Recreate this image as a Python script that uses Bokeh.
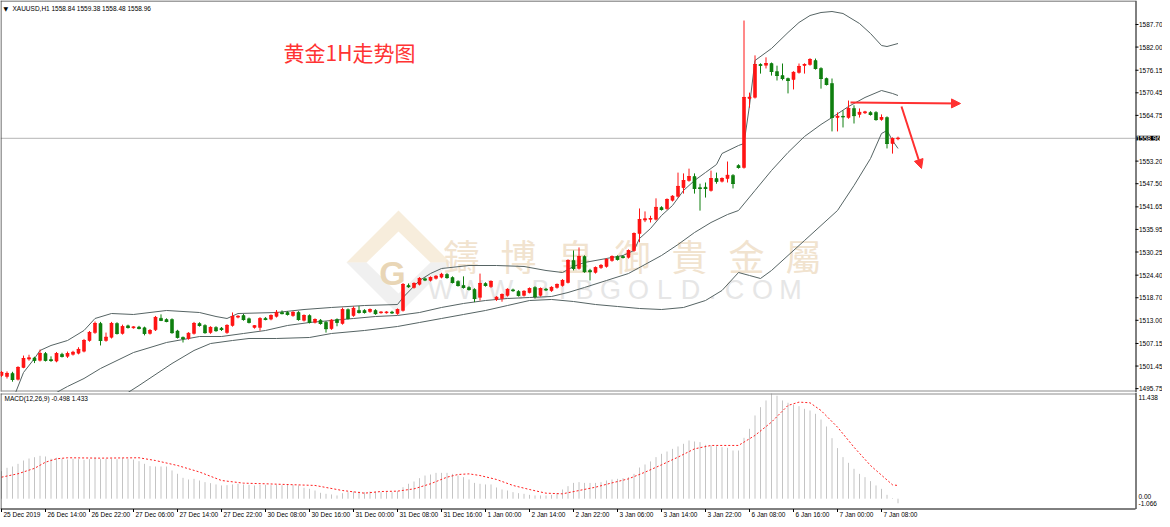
from bokeh.plotting import figure
from bokeh.layouts import column
from bokeh.models import (Range1d, Label, Span, Arrow, NormalHead, ColumnDataSource,
                          PolyAnnotation)
from bokeh.core.properties import value
from bokeh.embed import file_html
from bokeh.resources import INLINE

# ---------------- data ----------------
opens = [1499.07, 1498.82, 1499.6, 1498.1, 1501.1, 1503.2, 1503.5, 1502.9, 1504.6, 1503.1,
         1502.7, 1504.4, 1503.9, 1504.4, 1504.7, 1505.2, 1507.9, 1509.9, 1512.2, 1507.9,
         1508.7, 1512.2, 1509.7, 1511.6, 1511.1, 1511.3, 1511.1, 1509.7, 1510.6, 1513.5,
         1513.2, 1513.2, 1510.3, 1508.7, 1508.4, 1509.7, 1512.2, 1511.7, 1509.9, 1511.2,
         1511.0, 1509.9, 1511.7, 1513.8, 1514.2, 1513.4, 1511.2, 1511.2, 1513.5, 1513.3,
         1514.0, 1515.0, 1515.0, 1514.2, 1515.0, 1513.0, 1514.2, 1512.5, 1513.0, 1512.5,
         1510.9, 1513.2, 1512.2, 1515.7, 1514.2, 1515.5, 1515.5, 1515.2, 1515.5, 1514.9,
         1514.9, 1515.1, 1514.7, 1515.5, 1521.8, 1521.3, 1522.1, 1523.5, 1523.1, 1523.6,
         1523.9, 1524.6, 1523.8, 1522.8, 1521.8, 1521.3, 1520.8, 1518.8, 1522.3, 1521.5,
         1518.3, 1518.5, 1519.3, 1520.7, 1520.3, 1519.3, 1520.0, 1521.3, 1519.3, 1520.9,
         1520.5, 1521.3, 1521.8, 1522.55, 1528.1, 1526.1, 1529.1, 1525.6, 1525.1, 1526.3,
         1526.6, 1528.1, 1529.1, 1529.1, 1528.9, 1530.6, 1534.9, 1538.3, 1538.5, 1538.5,
         1541.5, 1541.2, 1543.3, 1544.3, 1546.5, 1548.3, 1549.3, 1546.5, 1546.6, 1545.8,
         1548.8, 1548.1, 1548.8, 1549.6, 1552.1, 1551.6, 1569.0, 1569.3, 1577.6, 1577.4,
         1577.85, 1575.8, 1574.8, 1574.06, 1573.8, 1575.6, 1577.35, 1577.6, 1578.6, 1576.6,
         1574.06, 1572.8, 1564.2, 1564.5, 1564.2, 1566.5, 1565.0, 1565.4, 1565.5, 1565.5,
         1563.7, 1564.2, 1557.65, 1558.84]
highs = [1500.2, 1500.1, 1500.0, 1501.4, 1504.1, 1504.3, 1503.8, 1505.6, 1505.0, 1503.9,
         1505.0, 1504.8, 1505.1, 1505.3, 1506.2, 1508.3, 1510.3, 1512.7, 1512.6, 1509.9,
         1512.6, 1512.5, 1511.9, 1511.9, 1511.5, 1511.6, 1511.4, 1510.8, 1514.1, 1514.5,
         1513.5, 1513.5, 1510.6, 1508.9, 1510.0, 1512.6, 1512.5, 1512.0, 1511.5, 1511.5,
         1511.3, 1512.0, 1514.98, 1514.3, 1514.6, 1513.7, 1511.8, 1513.8, 1513.8, 1514.5,
         1515.6, 1515.5, 1515.3, 1515.3, 1515.3, 1514.5, 1514.5, 1513.5, 1513.3, 1512.8,
         1513.3, 1513.5, 1516.2, 1516.0, 1516.5, 1516.6, 1515.8, 1516.0, 1515.8, 1515.3,
         1515.3, 1515.4, 1516.0, 1522.4, 1522.3, 1522.6, 1523.9, 1523.8, 1524.1, 1524.4,
         1525.0, 1524.9, 1524.1, 1523.1, 1524.1, 1521.6, 1521.1, 1524.8, 1522.6, 1523.1,
         1519.1, 1519.8, 1521.1, 1521.0, 1520.6, 1520.6, 1521.3, 1521.6, 1521.3, 1521.2,
         1521.6, 1522.3, 1523.4, 1528.4, 1530.63, 1531.4, 1529.4, 1526.0, 1526.6, 1527.2,
         1528.7, 1529.4, 1529.4, 1529.4, 1530.9, 1535.2, 1541.24, 1540.5, 1539.4, 1543.8,
         1541.8, 1543.8, 1544.6, 1550.3, 1550.1, 1551.3, 1550.1, 1547.5, 1547.8, 1550.8,
         1550.3, 1549.1, 1553.1, 1549.9, 1552.4, 1588.7, 1570.5, 1579.9, 1577.9, 1579.4,
         1578.1, 1577.3, 1577.85, 1574.3, 1575.9, 1577.85, 1577.9, 1579.2, 1579.1, 1576.9,
         1574.3, 1574.06, 1565.5, 1566.0, 1568.5, 1567.3, 1566.5, 1565.9, 1565.8, 1565.8,
         1565.0, 1564.5, 1559.2, 1559.38]
lows = [1498.7, 1498.3, 1497.5, 1497.8, 1500.9, 1502.8, 1502.2, 1502.6, 1502.6, 1502.5,
        1502.4, 1503.6, 1503.5, 1504.1, 1504.4, 1504.9, 1507.6, 1509.6, 1506.65, 1507.6,
        1508.4, 1509.4, 1509.4, 1510.9, 1510.9, 1510.7, 1509.2, 1509.4, 1510.3, 1512.8,
        1512.5, 1509.6, 1508.4, 1507.4, 1508.1, 1509.4, 1511.4, 1509.6, 1509.6, 1510.1,
        1510.3, 1509.6, 1511.4, 1513.5, 1512.9, 1512.2, 1510.9, 1510.4, 1513.0, 1513.0,
        1513.7, 1514.5, 1514.2, 1513.9, 1512.9, 1512.7, 1512.2, 1512.2, 1511.9, 1509.9,
        1510.6, 1511.5, 1511.9, 1513.2, 1513.9, 1514.7, 1514.7, 1514.9, 1514.4, 1514.7,
        1514.7, 1514.6, 1514.4, 1515.2, 1521.2, 1521.0, 1521.8, 1522.9, 1522.8, 1523.3,
        1523.6, 1523.5, 1522.3, 1521.5, 1521.0, 1520.5, 1517.6, 1518.0, 1521.5, 1521.2,
        1517.9, 1517.7, 1519.0, 1520.2, 1519.0, 1519.0, 1519.8, 1518.5, 1519.0, 1520.4,
        1520.2, 1521.0, 1521.5, 1522.3, 1525.6, 1525.8, 1525.0, 1523.06, 1524.8, 1526.0,
        1526.3, 1527.8, 1528.1, 1528.6, 1528.6, 1530.3, 1532.7, 1537.8, 1537.7, 1538.2,
        1540.7, 1540.9, 1543.0, 1544.0, 1545.0, 1548.0, 1545.0, 1540.7, 1544.0, 1545.5,
        1547.5, 1547.8, 1547.8, 1546.3, 1551.3, 1551.3, 1566.7, 1569.0, 1575.3, 1576.6,
        1574.8, 1573.56, 1573.6, 1570.3, 1571.3, 1575.3, 1575.3, 1577.3, 1576.3, 1571.5,
        1572.3, 1560.7, 1560.7, 1561.7, 1563.9, 1562.7, 1564.2, 1565.1, 1564.7, 1563.4,
        1563.4, 1556.4, 1555.1, 1558.48]
closes = [1499.83, 1499.58, 1498.06, 1501.09, 1503.36, 1503.5, 1502.9, 1504.63, 1502.9, 1502.85,
          1504.6, 1503.9, 1504.6, 1504.9, 1505.64, 1507.9, 1509.93, 1512.2, 1507.9, 1508.7,
          1512.2, 1509.7, 1511.4, 1511.2, 1511.3, 1510.95, 1509.7, 1510.4, 1513.72, 1513.0,
          1512.7, 1509.9, 1508.7, 1508.4, 1509.7, 1512.2, 1511.7, 1509.9, 1511.2, 1510.4,
          1510.7, 1511.7, 1513.97, 1514.0, 1513.2, 1512.5, 1511.6, 1513.4, 1513.2, 1514.2,
          1515.0, 1514.7, 1514.5, 1515.0, 1513.2, 1514.2, 1512.5, 1513.2, 1512.2, 1510.9,
          1513.0, 1512.5, 1515.7, 1513.5, 1516.0, 1515.0, 1515.0, 1515.7, 1514.7, 1515.05,
          1515.05, 1514.9, 1515.7, 1522.05, 1521.5, 1522.3, 1523.57, 1523.2, 1523.8, 1524.1,
          1524.6, 1523.8, 1522.55, 1521.8, 1521.3, 1520.8, 1518.5, 1522.3, 1521.8, 1522.8,
          1518.8, 1519.5, 1520.8, 1520.5, 1519.3, 1520.3, 1521.0, 1519.0, 1521.0, 1520.7,
          1521.3, 1522.05, 1523.06, 1528.11, 1526.1, 1529.1, 1525.3, 1525.3, 1526.3, 1526.85,
          1528.36, 1529.1, 1528.4, 1528.9, 1530.6, 1534.9, 1538.46, 1538.6, 1538.7, 1541.5,
          1541.0, 1543.5, 1544.3, 1546.8, 1548.3, 1549.3, 1546.3, 1546.3, 1546.3, 1548.8,
          1548.1, 1548.8, 1549.6, 1547.55, 1551.6, 1569.27, 1569.3, 1577.6, 1577.4, 1577.85,
          1575.83, 1574.82, 1574.06, 1573.56, 1575.6, 1577.1, 1577.6, 1578.86, 1576.6, 1574.06,
          1572.55, 1564.22, 1564.5, 1564.4, 1566.5, 1564.7, 1565.5, 1565.6, 1565.0, 1563.7,
          1564.2, 1557.65, 1558.9, 1558.96]

# Bollinger bands (20,2) read at sample bars
ub_bar = [2, 4, 6, 7, 9, 12, 15, 17, 20, 24, 30, 36, 39, 41, 43, 50, 55, 60, 66, 72, 73, 76,
          78, 80, 85, 90, 95, 99, 102, 104, 106, 110, 113, 115, 116, 118, 120, 122, 124, 126,
          128, 130, 131, 134, 135, 136, 137, 140, 143, 145, 147, 149, 151, 153, 156, 158, 160,
          161, 163]
ub_val = [1492.75, 1499.82, 1503.36, 1505.38, 1506.64, 1507.9, 1510.43, 1513.46, 1514.72,
          1514.47, 1515.48, 1514.97, 1513.96, 1513.46, 1514.72, 1514.97, 1515.73, 1516.24,
          1516.74, 1516.99, 1518.76, 1523.05, 1524.82, 1526.08, 1526.84, 1526.84, 1526.59,
          1525.58, 1525.07, 1526.59, 1527.6, 1528.61, 1529.37, 1530.63, 1533.66, 1536.18,
          1539.47, 1541.99, 1545.78, 1548.31, 1550.33, 1552.35, 1555.12, 1557.14, 1557.65,
          1567.25, 1578.61, 1581.64, 1585.68, 1588.21, 1589.97, 1590.73, 1590.98, 1590.48,
          1587.95, 1585.43, 1582.4, 1582.14, 1582.9]
mb_bar = [10, 12, 15, 18, 21, 24, 27, 30, 33, 36, 40, 44, 48, 52, 56, 60, 64, 68, 72, 76, 80,
          84, 88, 92, 96, 100, 103, 106, 110, 114, 117, 120, 123, 126, 129, 132, 134, 137, 140,
          143, 146, 149, 151, 154, 157, 160, 162, 163]
mb_val = [1494.77, 1496.29, 1498.31, 1500.83, 1502.85, 1504.87, 1506.13, 1507.4, 1508.15,
          1508.91, 1508.91, 1509.67, 1510.43, 1511.69, 1512.45, 1512.95, 1513.46, 1513.96,
          1514.22, 1514.97, 1516.24, 1517.25, 1518.0, 1518.51, 1518.76, 1519.01, 1520.02,
          1521.29, 1523.05, 1524.82, 1527.09, 1529.37, 1532.14, 1535.17, 1537.7, 1539.72,
          1540.73, 1545.78, 1550.83, 1555.38, 1559.42, 1562.45, 1564.22, 1566.99, 1569.27,
          1571.03, 1570.28, 1569.77]
lb_bar = [23, 25, 31, 35, 38, 42, 45, 50, 56, 60, 66, 72, 76, 80, 84, 88, 92, 96, 100, 104,
          108, 112, 116, 120, 124, 128, 131, 134, 136, 138, 140, 143, 146, 149, 152, 155, 158,
          160, 161, 162, 163]
lb_val = [1494.77, 1496.54, 1502.09, 1505.38, 1507.14, 1507.9, 1508.41, 1508.41, 1508.66,
          1509.67, 1510.43, 1511.44, 1512.45, 1513.46, 1514.47, 1515.48, 1516.74, 1518.0,
          1518.26, 1517.75, 1516.99, 1516.49, 1515.98, 1515.73, 1516.24, 1518.0, 1520.53,
          1525.07, 1524.32, 1523.56, 1525.58, 1529.37, 1533.15, 1536.94, 1540.73, 1547.04,
          1553.86, 1560.17, 1560.93, 1558.41, 1556.39]

# MACD(12,26,9): main (histogram) per bar, signal read at sample bars
macd_main = [2.99, 3.36, 3.50, 3.79, 4.15, 4.37, 4.51, 4.66, 4.59, 4.34,
             4.45, 4.34, 4.26, 4.34, 4.30, 4.23, 4.30, 4.45, 4.30, 4.34,
             4.34, 4.30, 4.41, 4.34, 4.26, 4.08, 3.79, 3.54, 3.50, 3.50,
             3.50, 3.07, 2.71, 2.27, 2.09, 2.16, 1.98, 1.80, 1.69, 1.55,
             1.44, 1.47, 1.55, 1.62, 1.55, 1.51, 1.44, 1.51, 1.51, 1.47,
             1.51, 1.47, 1.51, 1.51, 1.44, 1.19, 1.08, 0.89, 0.64, 0.53,
             0.46, 0.35, 0.60, 0.71, 0.78, 0.78, 0.71, 0.78, 0.78, 0.71,
             0.71, 0.71, 0.82, 1.25, 1.62, 1.87, 2.23, 2.52, 2.63, 2.81,
             2.81, 2.81, 2.70, 2.52, 2.34, 2.09, 1.72, 1.62, 1.55, 1.55,
             1.22, 1.00, 0.89, 0.71, 0.60, 0.53, 0.42, 0.35, 0.35, 0.35,
             0.42, 0.60, 1.00, 1.36, 1.72, 1.80, 1.72, 1.72, 1.72, 1.80,
             1.98, 2.09, 2.16, 2.23, 2.34, 2.70, 3.39, 3.72, 4.05, 4.52,
             4.88, 5.13, 5.42, 5.68, 5.97, 6.33, 6.22, 6.15, 5.86, 5.79,
             5.71, 5.60, 5.53, 5.24, 5.24, 6.62, 7.60, 9.05, 9.95, 10.68,
             11.438, 11.20, 10.68, 10.43, 10.21, 10.06, 9.77, 9.59, 9.23, 8.61,
             7.85, 6.58, 5.50, 4.52, 3.90, 3.25, 2.70, 2.34, 1.91, 1.44,
             1.07, 0.42, 0.06, -0.498]
sig_bar = [0, 3, 6, 8, 10, 12, 18, 25, 28, 32, 36, 40, 44, 48, 57, 62, 66, 69, 72, 75, 78,
           81, 83, 85, 87, 90, 93, 96, 99, 102, 105, 108, 111, 114, 117, 120, 123, 126, 129,
           132, 134, 137, 140, 143, 145, 147, 149, 152, 155, 158, 162, 163]
sig_val = [2.34, 2.71, 3.30, 3.97, 4.34, 4.45, 4.41, 4.45, 4.15, 3.61, 2.90, 1.98, 1.69, 1.62,
           1.44, 0.89, 0.60, 0.78, 0.82, 1.07, 1.62, 2.34, 2.63, 2.70, 2.52, 2.09, 1.44, 1.00,
           0.60, 0.53, 0.89, 1.25, 1.72, 2.16, 2.88, 3.68, 4.52, 5.42, 5.79, 5.79, 5.79, 6.88,
           8.33, 10.14, 10.50, 10.43, 9.59, 7.78, 5.60, 3.61, 1.51, 1.433]

price_ticks = [1495.75, 1501.45, 1507.15, 1513.00, 1518.70, 1524.40, 1530.25, 1535.95,
               1541.65, 1547.50, 1553.20, 1564.75, 1570.45, 1576.15, 1582.00, 1587.70]
macd_ticks = [11.438, 0.00, -1.066]
date_bars = [0, 8, 16, 24, 32, 40, 48, 56, 64, 72, 80, 88, 96, 104, 112, 120, 128, 136,
             144, 152, 160]
date_labels = ["25 Dec 2019", "26 Dec 14:00", "26 Dec 22:00", "27 Dec 06:00", "27 Dec 14:00",
               "27 Dec 22:00", "30 Dec 08:00", "30 Dec 16:00", "31 Dec 00:00", "31 Dec 08:00",
               "31 Dec 16:00", "1 Jan 00:00", "2 Jan 14:00", "2 Jan 22:00", "3 Jan 06:00",
               "3 Jan 14:00", "3 Jan 22:00", "6 Jan 08:00", "6 Jan 16:00", "7 Jan 00:00",
               "7 Jan 08:00"]
last_price = 1558.96

# ---------------- styling / layout helpers ----------------
RED = "#ff1414"
GREEN = "#0f7f0f"
BAND = "#566464"
FONT = "Liberation Sans"
FS = "6.5px"
AX = 1135          # pixel column of the right scale line


def bx(px):   # page pixel -> bar index (layout of annotations only)
    return (px - 1) / 5.5


def py(y):    # page pixel -> price (layout of annotations only)
    return 1587.7 - (y - 24) / 3.96


def mv(y):    # page pixel -> MACD value (layout of annotations only)
    return 11.438 - (y - 393) / 9.197


n = len(closes)
idx = list(range(n))
colors = [RED if c >= o else GREEN for o, c in zip(opens, closes)]
src = ColumnDataSource(dict(x=idx, o=opens, h=highs, l=lows, c=closes,
                            top=[max(o, c) for o, c in zip(opens, closes)],
                            bot=[min(o, c) for o, c in zip(opens, closes)],
                            color=colors))

XR = Range1d(bx(0), bx(1162))

p = figure(width=1162, height=392, x_range=XR, y_range=Range1d(py(392), py(0)),
           output_backend="svg", toolbar_location=None, x_axis_location=None,
           y_axis_location=None, min_border=0, min_border_left=0, min_border_right=0,
           min_border_top=0, min_border_bottom=0)
p.outline_line_color = None
p.grid.visible = False
p.background_fill_color = "white"
p.border_fill_color = "white"

# watermark (underlay)
p.add_layout(PolyAnnotation(xs=[bx(346), bx(398), bx(450), bx(430), bx(398), bx(366)],
                            ys=[py(262), py(210), py(262), py(262), py(231), py(262)],
                            fill_color="#f1dfc0", fill_alpha=0.55, line_alpha=0,
                            level="underlay"))
p.add_layout(PolyAnnotation(xs=[bx(346), bx(398), bx(450), bx(430), bx(398), bx(366)],
                            ys=[py(262), py(314), py(262), py(262), py(293), py(262)],
                            fill_color="#e4e4e4", fill_alpha=0.55, line_alpha=0,
                            level="underlay"))
p.add_layout(Label(x=bx(392), y=py(272), text="G", text_align="center", text_baseline="middle",
                   text_font="Liberation Sans", text_font_style="bold", text_font_size="34px",
                   text_color="#e9d6b6", level="underlay"))
for ch, cx in zip("鑄博皇御貴金屬", [461, 518, 575, 632, 689, 746, 803]):
    p.add_layout(Label(x=bx(cx), y=py(254), text=ch, text_align="center",
                       text_baseline="middle", text_font="Noto Sans CJK TC",
                       text_font_size="36px", text_color="#f1e3cf", level="underlay"))
for ch, cx in zip("WWW.BIBGOLD.COM", [440, 470, 500, 520, 540, 562, 584, 610, 638, 664,
                                       690, 712, 734, 762, 790]):
    p.add_layout(Label(x=bx(cx), y=py(289), text=ch, text_align="center",
                       text_baseline="middle", text_font="Liberation Sans",
                       text_font_size="27px", text_color="#e6e6e6", level="underlay"))

# current price line
p.segment(x0=[bx(0)], y0=[last_price], x1=[bx(AX)], y1=[last_price],
          line_color="#b4b4b4", line_width=1)

# panel frame + right scale
p.segment(x0=[bx(0.5), bx(0), bx(0), bx(AX + 0.5)],
          y0=[py(0), py(0.5), py(390.5), py(0)],
          x1=[bx(0.5), bx(AX), bx(AX), bx(AX + 0.5)],
          y1=[py(391), py(0.5), py(390.5), py(392)],
          line_color=["#404040", "#404040", "#8c8c8c", "black"], line_width=1)
p.segment(x0=[bx(AX)] * len(price_ticks), y0=price_ticks,
          x1=[bx(AX + 3)] * len(price_ticks), y1=price_ticks, line_color="black", line_width=1)
p.text(x=[bx(AX + 3.5)] * len(price_ticks), y=price_ticks,
       text=["%.2f" % t for t in price_ticks], text_font=value(FONT),
       text_font_size=value(FS), text_baseline="middle", text_align="left", text_color="black")

# bands
p.line(ub_bar, ub_val, line_color=BAND, line_width=1)
p.line(mb_bar, mb_val, line_color=BAND, line_width=1)
p.line(lb_bar, lb_val, line_color=BAND, line_width=1)

# candles
p.segment(x0="x", y0="l", x1="x", y1="h", line_color="color", line_width=1, source=src)
p.vbar(x="x", top="top", bottom="bot", width=0.55, fill_color="color", line_color="color",
       line_width=0.6, source=src)
p.scatter(x="x", y="c", marker="dash", size=3.5, line_color="color", line_width=1, source=src)

# texts
p.add_layout(Label(x=bx(3), y=py(7.5), text="▼", text_font="DejaVu Sans", text_font_size="6px",
                   text_baseline="middle", text_color="black"))
p.add_layout(Label(x=bx(12), y=py(8), text="XAUUSD,H1  1558.84 1559.38 1558.48 1558.96",
                   text_font=FONT, text_font_size=FS, text_baseline="middle",
                   text_color="black"))
p.add_layout(Label(x=bx(283), y=py(36), text="黄金1H走势图", text_font="Noto Sans CJK SC",
                   text_font_size="21px", text_baseline="top", text_color="#ff3333"))
p.add_layout(Label(x=bx(AX + 1), y=last_price, text="%.2f" % last_price, text_font=FONT,
                   text_font_size=FS, text_baseline="middle", text_color="white",
                   background_fill_color="black"))

# arrows
p.add_layout(Arrow(x_start=bx(850), y_start=py(102), x_end=bx(960), y_end=py(103),
                   line_color="#ff3030", line_width=2,
                   end=NormalHead(size=9, fill_color="#ff3030", line_color="#ff3030")))
p.add_layout(Arrow(x_start=bx(901), y_start=py(106), x_end=bx(921), y_end=py(168),
                   line_color="#ff3030", line_width=2,
                   end=NormalHead(size=9, fill_color="#ff3030", line_color="#ff3030")))

# ---------------- MACD panel ----------------
m = figure(width=1162, height=127, x_range=XR, y_range=Range1d(mv(519), mv(392)),
           output_backend="svg", toolbar_location=None, x_axis_location=None,
           y_axis_location=None, min_border=0, min_border_left=0, min_border_right=0,
           min_border_top=0, min_border_bottom=0)
m.outline_line_color = None
m.grid.visible = False

m.segment(x0=idx, y0=[0] * n, x1=idx, y1=macd_main, line_color="#c4c4c4", line_width=1)
m.line(sig_bar, sig_val, line_color="#ff2020", line_width=1, line_dash="2 2")

# panel frame + scales
m.segment(x0=[bx(0), bx(0.5), bx(0), bx(AX + 0.5)],
          y0=[mv(393.5), mv(393), mv(508.5), mv(392)],
          x1=[bx(AX), bx(0.5), bx(AX), bx(AX + 0.5)],
          y1=[mv(393.5), mv(508.5), mv(508.5), mv(508.5)],
          line_color=["#8c8c8c", "#404040", "black", "black"], line_width=1)
m.segment(x0=date_bars, y0=[mv(508.5)] * len(date_bars), x1=date_bars,
          y1=[mv(511.5)] * len(date_bars), line_color="black", line_width=1)
m.text(x=[b + 2 / 5.5 for b in date_bars], y=[mv(510)] * len(date_bars), text=date_labels,
       text_font=value(FONT), text_font_size=value(FS), text_baseline="top",
       text_align="left", text_color="black")
m.text(x=[bx(AX + 3)] * 3, y=[mv(397), mv(495.5), mv(502.5)],
       text=["%.3f" % macd_ticks[0], "%.2f" % macd_ticks[1], "%.3f" % macd_ticks[2]],
       text_font=value(FONT), text_font_size=value(FS), text_baseline="middle",
       text_align="left", text_color="black")
m.add_layout(Label(x=bx(4), y=mv(397.5), text="MACD(12,26,9) -0.498 1.433",
                   text_font=FONT, text_font_size=FS, text_baseline="middle",
                   text_color="black"))

layout = column(p, m, spacing=0)
open("out.html", "w").write(file_html(layout, INLINE))
